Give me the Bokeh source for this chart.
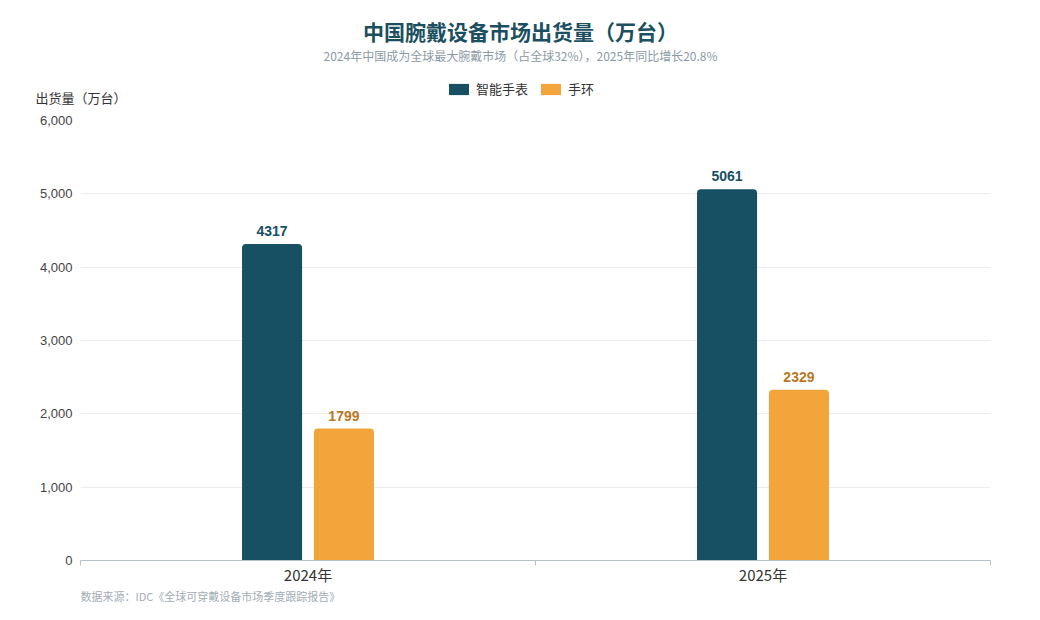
from bokeh.plotting import figure
from bokeh.layouts import column
from bokeh.models import (ColumnDataSource, Range1d, FixedTicker, Legend,
                          LegendItem, NumeralTickFormatter, Title)
from bokeh.core.properties import value
from bokeh.embed import file_html
from bokeh.resources import INLINE

categories = ["2024年", "2025年"]
smartwatch = [4317, 5061]
band = [1799, 2329]
series_names = ["智能手表", "手环"]
y_ticks = [0, 1000, 2000, 3000, 4000, 5000, 6000]
title_text = "中国腕戴设备市场出货量（万台）"
subtitle_text = "2024年中国成为全球最大腕戴市场（占全球32%），2025年同比增长20.8%"
ylabel_text = "出货量（万台）"
source_text = "数据来源：IDC《全球可穿戴设备市场季度跟踪报告》"

DARK = "#174f63"
ORANGE = "#f3a53c"
CJK = "Noto Sans CJK SC"
W = 1024
HEAD_H = 110
MAIN_H = 500

# ---------- header ----------
head = figure(width=W, height=HEAD_H, output_backend="svg", toolbar_location=None,
              x_range=Range1d(0, W), y_range=Range1d(HEAD_H, 0),
              x_axis_location=None, y_axis_location=None,
              min_border=0, min_border_left=0, min_border_right=0,
              min_border_top=0, min_border_bottom=0, frame_align=False)
head.outline_line_color = None
head.grid.grid_line_color = None

head.text(x=[520], y=[30], text=[title_text], text_align="center",
          text_baseline="middle", text_font=value(CJK), text_font_style="bold",
          text_font_size="21px", text_color="#1b4f61")
head.text(x=[520], y=[55], text=[subtitle_text], text_align="center",
          text_baseline="middle", text_font=value(CJK), text_font_size="12px",
          text_color="#8c9aa6")
head.text(x=[35], y=[97], text=[ylabel_text], text_align="left",
          text_baseline="middle", text_font=value(CJK), text_font_size="13px",
          text_color="#333333")
dummy = ColumnDataSource(dict(x=[-100], top=[0]))
d1 = head.vbar(x="x", top="top", width=1, source=dummy, fill_color=DARK,
               line_color=None, border_radius=4)
d2 = head.vbar(x="x", top="top", width=1, source=dummy, fill_color=ORANGE,
               line_color=None, border_radius=4)
legend = Legend(items=[LegendItem(label=series_names[0], renderers=[d1]),
                       LegendItem(label=series_names[1], renderers=[d2])],
                orientation="horizontal", location=(446, 12),
                glyph_width=25, glyph_height=14, label_standoff=5, spacing=10,
                padding=0, margin=0, border_line_color=None,
                background_fill_alpha=0, label_text_font=CJK,
                label_text_font_size="13px", label_text_color="#333333")
head.add_layout(legend, "center")

# ---------- main chart ----------
p = figure(width=W, height=MAIN_H, output_backend="svg", toolbar_location=None,
           x_range=Range1d(0, len(categories)), y_range=Range1d(0, 6000),
           min_border_left=80, min_border_right=W - 990, min_border_top=10,
           min_border_bottom=MAIN_H - 10 - 440, frame_align=False)
p.outline_line_color = None

centers = [i + 0.5 for i in range(len(categories))]
off = 0.079
bw = 0.132
src_w = ColumnDataSource(dict(x=[c - off for c in centers], top=smartwatch,
                              lab=[str(v) for v in smartwatch]))
src_b = ColumnDataSource(dict(x=[c + off for c in centers], top=band,
                              lab=[str(v) for v in band]))

p.vbar(x="x", top="top", width=bw, source=src_w, fill_color=DARK,
       line_color=None, border_radius=(4, 4, 0, 0))
p.vbar(x="x", top="top", width=bw, source=src_b, fill_color=ORANGE,
       line_color=None, border_radius=(4, 4, 0, 0))

p.text(x="x", y="top", text="lab", source=src_w, text_align="center",
       text_baseline="bottom", y_offset=-8, text_font=value("Liberation Sans"),
       text_font_style="bold", text_font_size="14px", text_color=DARK)
p.text(x="x", y="top", text="lab", source=src_b, text_align="center",
       text_baseline="bottom", y_offset=-8, text_font=value("Liberation Sans"),
       text_font_style="bold", text_font_size="14px", text_color="#b8791f")

p.xaxis.ticker = FixedTicker(ticks=centers,
                             minor_ticks=list(range(len(categories) + 1)))
p.xaxis.major_label_overrides = {c: cat for c, cat in zip(centers, categories)}
p.xaxis.major_tick_line_color = None
p.xaxis.major_tick_out = 0
p.xaxis.major_tick_in = 0
p.xaxis.minor_tick_in = 0
p.xaxis.minor_tick_out = 5
p.xaxis.minor_tick_line_color = "#b4c2cc"
p.xaxis.axis_line_color = "#b4c2cc"
p.xaxis.major_label_text_font = CJK
p.xaxis.major_label_text_font_size = "15px"
p.xaxis.major_label_text_color = "#333333"
p.xaxis.major_label_standoff = -2
p.xgrid.grid_line_color = None

p.yaxis.ticker = FixedTicker(ticks=y_ticks)
p.yaxis.formatter = NumeralTickFormatter(format="0,0")
p.yaxis.axis_line_color = None
p.yaxis.major_tick_line_color = None
p.yaxis.major_tick_out = 0
p.yaxis.major_tick_in = 0
p.yaxis.minor_tick_line_color = None
p.yaxis.major_label_text_font = "Liberation Sans"
p.yaxis.major_label_text_font_size = "13px"
p.yaxis.major_label_text_color = "#444444"
p.yaxis.major_label_standoff = 8
p.ygrid.grid_line_color = "#ececec"

p.add_layout(Title(text=source_text, align="left", text_font=CJK,
                   text_font_size="11px", text_font_style="normal",
                   text_color="#a3adb6", standoff=-3, offset=0), "below")

layout = column(head, p, spacing=0)
open("out.html", "w").write(file_html(layout, INLINE))
